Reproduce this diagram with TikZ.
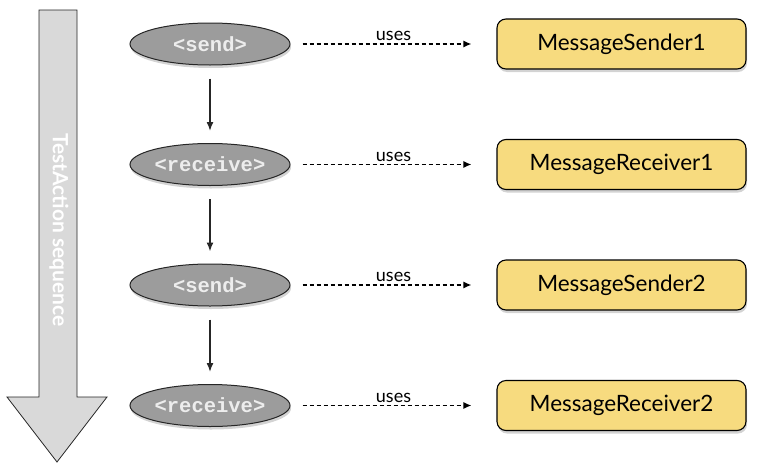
\documentclass[tikz,border=0pt]{standalone}
\usepackage{fontspec}
\setmainfont{Lato}
\setmonofont{Liberation Mono}
\usetikzlibrary{arrows.meta,shapes.geometric,positioning,shadows}

\definecolor{actgray}{HTML}{9C9C9C}
\definecolor{boxyellow}{HTML}{F7DB7F}
\definecolor{seqgray}{HTML}{D9D9D9}

\begin{document}
\begin{tikzpicture}[x=1pt,y=-1pt,node distance=120.5pt and 411.5pt,on grid,
    action/.style={ellipse,draw=black!85,line width=1pt,fill=actgray,
      minimum width=160pt,minimum height=42pt,inner sep=0pt,text=white!93!black,
      font=\ttfamily\bfseries\fontsize{20.5}{20.5}\selectfont,
      drop shadow={opacity=0.35,shadow xshift=1pt,shadow yshift=-3pt}},
    handler/.style={draw=black,line width=1.1pt,rounded corners=9pt,fill=boxyellow,
      minimum width=249pt,minimum height=50pt,inner sep=0pt,
      font=\fontsize{22.5}{22.5}\selectfont,
      drop shadow={opacity=0.35,shadow xshift=1pt,shadow yshift=-3pt}},
    flow/.style={-{Latex[length=9pt,width=7pt]},line width=1.5pt,draw=black!85,
      shorten <=13pt,shorten >=12pt},
    uses/.style={-{Latex[length=8pt,width=7pt]},line width=1.4pt,
      dash pattern=on 4pt off 3pt,shorten <=12pt,shorten >=25pt}]
  \useasboundingbox (0,0) rectangle (757,466);

  % sequence arrow
  \filldraw[fill=seqgray,draw=black!85,line width=0.8pt] (39,10) -- (77,10)
    -- (77,397) -- (107,397) -- (57,462) -- (7,397) -- (39,397) -- cycle;
  \node[rotate=-90,text=white,font=\bfseries\fontsize{21}{21}\selectfont]
    (seq) at (59,230) {TestAction sequence};

  % test actions
  \node[action] (send1) at (210,44) {<send>};
  \node[action,below=of send1] (recv1) {<receive>};
  \node[action,below=of recv1] (send2) {<send>};
  \node[action,below=of send2] (recv2) {<receive>};

  % handlers
  \node[handler,right=of send1] (sender1) {MessageSender1};
  \node[handler,right=of recv1] (receiver1) {MessageReceiver1};
  \node[handler,right=of send2] (sender2) {MessageSender2};
  \node[handler,right=of recv2] (receiver2) {MessageReceiver2};

  \draw[flow] (send1) -- (recv1);
  \draw[flow] (recv1) -- (send2);
  \draw[flow] (send2) -- (recv2);

  \foreach \a/\h in {send1/sender1,recv1/receiver1,send2/sender2,recv2/receiver2}
    \draw[uses] (\a) -- node[above=-1pt,font=\fontsize{18}{18}\selectfont] {uses} (\h);
\end{tikzpicture}
\end{document}
